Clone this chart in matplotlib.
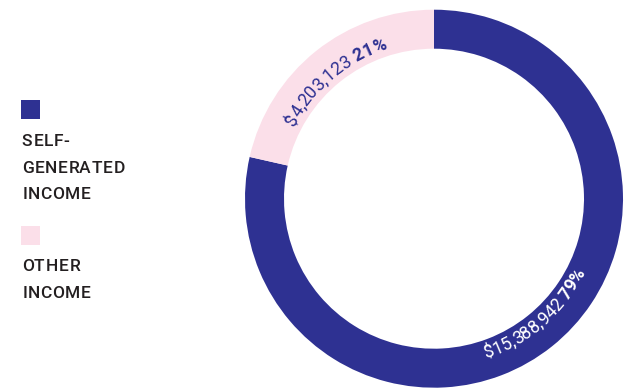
import numpy as np
import matplotlib
matplotlib.use("Agg")
import matplotlib.pyplot as plt
from matplotlib.patches import Rectangle
from matplotlib.font_manager import FontProperties, findfont, get_font

# data
categories = ["SELF-\nGENERATED\nINCOME", "OTHER\nINCOME"]
values = [15388942, 4203123]
amount_labels = ["$15,388,942", "$4,203,123"]
pct_labels = ["79%", "21%"]
colors = ["#2e3192", "#fbdfe9"]
label_colors = ["#ffffff", "#2e3192"]

W, H = 624, 389
fig = plt.figure(figsize=(W / 100, H / 100), dpi=100)
ax = fig.add_axes([0, 0, 1, 1])

cx, cy, R, ring = 434, 190.3, 189, 39
wedges, _ = ax.pie(values, colors=colors, startangle=90, counterclock=False,
                   center=(cx, cy), radius=R,
                   wedgeprops=dict(width=ring, linewidth=0))
ax.set_xlim(0, W)
ax.set_ylim(0, H)
ax.set_aspect("auto")
ax.axis("off")


def glyph_metrics(c, prop):
    # advance, left bearing (pixels)
    f = get_font(findfont(prop))
    f.set_size(prop.get_size_in_points(), 100)
    g = f.load_char(ord(c))
    return g.linearHoriAdvance / 65536, g.horiBearingX / 64


def curved_text(parts, theta_mid, r, outward, color):
    # parts: list of (string, FontProperties)
    chars = []
    for s, prop in parts:
        for c in s:
            chars.append((c, prop, glyph_metrics(c, prop)[0]))
    total = sum(ch[2] for ch in chars)
    s = 0
    for c, prop, adv in chars:
        if c != " ":
            off = (s + adv / 2 - total / 2) / r
            if outward:
                th = np.radians(theta_mid) - off
                rot = np.degrees(th) - 90
            else:
                th = np.radians(theta_mid) + off
                rot = np.degrees(th) + 90
            ax.text(cx + r * np.cos(th), cy + r * np.sin(th), c,
                    fontproperties=prop, color=color, ha="center",
                    va="baseline", rotation=rot, rotation_mode="anchor")
        s += adv


def spaced_text(x, y, s, prop, color, track):
    for c in s:
        adv, bx = glyph_metrics(c, prop)
        ax.text(x + bx, y, c, fontproperties=prop, color=color,
                ha="left", va="baseline")
        x += adv + track


light = FontProperties(family="Roboto", weight="normal", size=12.8)
bold = FontProperties(family="Roboto", weight="bold", size=12.8)

total_val = sum(values)
start = 90.0
mids = []
for v in values:
    sweep = 360 * v / total_val
    mids.append(start - sweep / 2)
    start -= sweep

# dark segment label (bottom right, reads counter-clockwise)
curved_text([(amount_labels[0] + " ", light), (pct_labels[0], bold)],
            mids[0] + 2.5, 168, False, label_colors[0])
# pink segment label (top left, reads clockwise)
curved_text([(amount_labels[1] + " ", light), (pct_labels[1], bold)],
            mids[1] + 360 + 1.5, 157, True, label_colors[1])

# legend
leg_font = FontProperties(family="Roboto", weight="medium", size=12.5)
squares_top = [100, 226]
text_tops = [146, 271]
for i, cat in enumerate(categories):
    ax.add_patch(Rectangle((21, H - squares_top[i] - 19), 19, 19,
                           facecolor=colors[i], edgecolor="none"))
    for j, line in enumerate(cat.split("\n")):
        spaced_text(21, H - (text_tops[i] + 26.5 * j), line, leg_font,
                    "#231f20", 0.6)

fig.savefig("out.png", dpi=100)
